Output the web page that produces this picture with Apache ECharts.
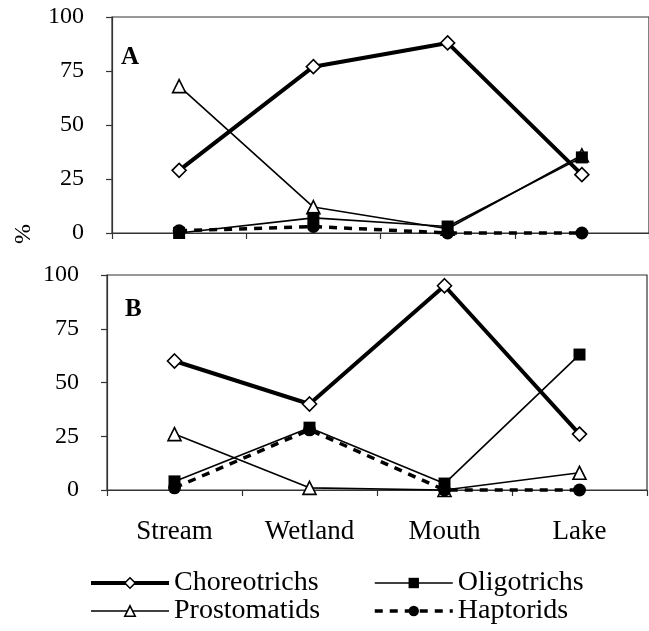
<!DOCTYPE html>
<html>
<head>
<meta charset="utf-8">
<script src="https://cdn.jsdelivr.net/npm/echarts@6/dist/echarts.min.js"></script>
<style>
html,body{margin:0;padding:0;background:#fff;}
#chart{width:649px;height:631px;}
</style>
</head>
<body>
<div id="chart"></div>
<script>
const categories = ['Stream', 'Wetland', 'Mouth', 'Lake'];
const seriesNames = ['Choreotrichs', 'Prostomatids', 'Oligotrichs', 'Haptorids'];
// Panel A
const choreoA = [29, 77, 88, 27];
const prostoA = [68, 12, 2, 36];
const oligoA  = [0, 7, 3, 35];
const haptoA  = [1, 3, 0, 0];
// Panel B
const choreoB = [60, 40, 95, 26];
const prostoB = [26, 1, 0, 8];
const oligoB  = [4, 29, 3, 63];
const haptoB  = [1, 28, 0, 0];
const panelLabels = ['A', 'B'];
const yLabel = '%';

const FONT = 'Liberation Serif';
const styles = {
  'Choreotrichs': {symbol: 'diamond', symbolSize: 14, lineStyle: {color: '#000', width: 4},
    itemStyle: {color: '#fff', borderColor: '#000', borderWidth: 1.6}},
  'Prostomatids': {symbol: 'triangle', symbolSize: 13, lineStyle: {color: '#000', width: 1.6},
    itemStyle: {color: '#fff', borderColor: '#000', borderWidth: 1.6}},
  'Oligotrichs': {symbol: 'rect', symbolSize: 12, lineStyle: {color: '#000', width: 1.6},
    itemStyle: {color: '#000', borderColor: '#000', borderWidth: 0}},
  'Haptorids': {symbol: 'circle', symbolSize: 13, lineStyle: {color: '#000', width: 3.5, type: [8, 7]},
    itemStyle: {color: '#000', borderColor: '#000', borderWidth: 0}}
};

function mkSeries(name, data, idx) {
  const s = styles[name];
  return {
    name: name, type: 'line', data: data,
    xAxisIndex: idx, yAxisIndex: idx,
    symbol: s.symbol, symbolSize: s.symbolSize, showSymbol: true,
    lineStyle: s.lineStyle, itemStyle: s.itemStyle,
    clip: false, animation: false,
    emphasis: {disabled: true}
  };
}

const series = [
  mkSeries('Prostomatids', prostoA, 0),
  mkSeries('Oligotrichs', oligoA, 0),
  mkSeries('Haptorids', haptoA, 0),
  mkSeries('Choreotrichs', choreoA, 0),
  mkSeries('Prostomatids', prostoB, 1),
  mkSeries('Oligotrichs', oligoB, 1),
  mkSeries('Haptorids', haptoB, 1),
  mkSeries('Choreotrichs', choreoB, 1)
];

function mkY(idx) {
  return {
    type: 'value', gridIndex: idx, min: 0, max: 100, interval: 25,
    axisLine: {show: true, lineStyle: {color: '#333', width: 1.2}},
    axisTick: {show: true, inside: false, length: 6, lineStyle: {color: '#333', width: 1.2}},
    axisLabel: {fontFamily: FONT, fontSize: 24, color: '#000', margin: 28},
    splitLine: {show: false}
  };
}
function mkX(idx, showLabel) {
  return {
    type: 'category', gridIndex: idx, data: categories, boundaryGap: true,
    axisLine: {show: true, lineStyle: {color: '#333', width: 1.2}},
    axisTick: {show: true, inside: false, length: 6, alignWithLabel: false, lineStyle: {color: '#333', width: 1.2}},
    axisLabel: {show: showLabel, fontFamily: FONT, fontSize: 27, color: '#000', margin: 28},
    splitLine: {show: false}
  };
}

function legendItem(name) {
  const s = styles[name];
  return {name: name, lineStyle: Object.assign({}, s.lineStyle), itemStyle: Object.assign({}, s.itemStyle)};
}

const legendCommon = {
  orient: 'vertical', top: 569, height: 70, padding: 0,
  itemWidth: 78, itemHeight: 13, itemGap: 0, selectedMode: false,
  textStyle: {fontFamily: FONT, fontSize: 28, lineHeight: 27, color: '#000'}
};

const chart = echarts.init(document.getElementById('chart'), null, {renderer: 'canvas'});
chart.setOption({
  backgroundColor: '#fff',
  animation: false,
  grid: [
    {left: 112, top: 17, width: 540, height: 216, show: true, borderColor: '#333', borderWidth: 1.2, backgroundColor: 'transparent'},
    {left: 107, top: 275, width: 540, height: 215, show: true, borderColor: '#333', borderWidth: 1.2, backgroundColor: 'transparent'}
  ],
  xAxis: [mkX(0, false), mkX(1, true)],
  yAxis: [mkY(0), mkY(1)],
  legend: [
    Object.assign({}, legendCommon, {data: [legendItem('Choreotrichs'), legendItem('Prostomatids')], left: 89}),
    Object.assign({}, legendCommon, {data: [legendItem('Oligotrichs'), legendItem('Haptorids')], left: 373})
  ],
  graphic: [
    {type: 'text', left: 121, top: 45, style: {text: panelLabels[0], font: 'bold 25px "Liberation Serif"', fill: '#000'}},
    {type: 'text', left: 125, top: 297, style: {text: panelLabels[1], font: 'bold 25px "Liberation Serif"', fill: '#000'}},
    {type: 'text', x: 12, y: 244, rotation: Math.PI / 2, style: {text: yLabel, font: '24px "Liberation Serif"', fill: '#000'}}
  ],
  series: series
});
</script>
</body>
</html>
